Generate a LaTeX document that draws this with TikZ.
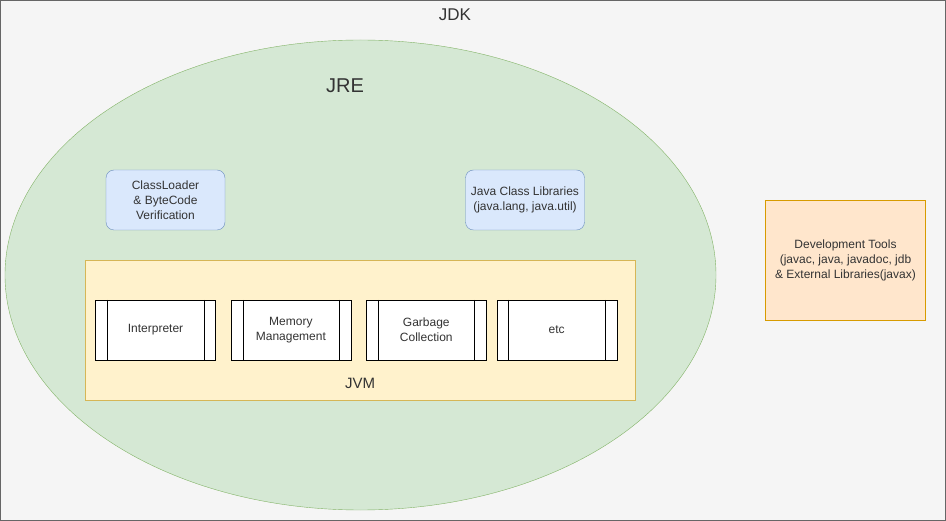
\documentclass[tikz,border=0pt]{standalone}
\usepackage{fontspec}
\setmainfont{Liberation Sans}
\usepackage{xcolor}
\usetikzlibrary{positioning,shapes.geometric,calc}

\definecolor{jdkfill}{HTML}{F5F5F5}
\definecolor{jdkline}{HTML}{666666}
\definecolor{jrefill}{HTML}{D5E8D4}
\definecolor{jreline}{HTML}{82B366}
\definecolor{bluefill}{HTML}{DAE8FC}
\definecolor{blueline}{HTML}{6C8EBF}
\definecolor{jvmfill}{HTML}{FFF2CC}
\definecolor{jvmline}{HTML}{D6B656}
\definecolor{toolfill}{HTML}{FFE6CC}
\definecolor{toolline}{HTML}{D79B00}
\definecolor{txt}{HTML}{333333}

\begin{document}
\begin{tikzpicture}[
  x=1pt, y=-1pt,
  every node/.style={font=\fontsize{12}{15}\selectfont, text=txt, align=center},
  part/.style={draw=blueline, fill=bluefill, rounded corners=8pt, minimum width=119pt, minimum height=60pt, inner sep=0pt},
  proc/.style={draw=black, fill=white, minimum width=120pt, minimum height=60pt, inner sep=0pt},
]
\useasboundingbox (0,0) rectangle (946,521);
\draw[jdkline, fill=jdkfill, line width=1.2pt] (0.6,0.6) rectangle (945.4,520.4);
\node[font=\fontsize{17}{20}\selectfont] (jdk) at (455,15) {JDK};

% JRE
\node[ellipse, draw=jreline, fill=jrefill, minimum width=711pt, minimum height=470pt, inner sep=0pt] (jre) at (360.5,275) {};
\node[font=\fontsize{20}{24}\selectfont] (jrelabel) at (345,86) {JRE};

\node[part] (loader) at (165.5,200) {ClassLoader\\\& ByteCode\\Verification};
\node[part] (libs) at (525,200) {Java Class Libraries\\(java.lang, java.util)};

% JVM
\draw[jvmline, fill=jvmfill] (85,260) rectangle (635,400);
\node[font=\fontsize{15}{18}\selectfont] (jvm) at (360,383) {JVM};

\node[proc] (interp) at (155.5,330) {Interpreter};
\node[proc, right=15pt of interp] (memory) {Memory\\Management};
\node[proc, right=15pt of memory] (garbage) {Garbage\\Collection};
\node[proc, right=10pt of garbage] (etc) {etc};
\foreach \n in {interp,memory,garbage,etc} {
  \draw ($(\n.north west)+(12,0)$) -- ($(\n.south west)+(12,0)$);
  \draw ($(\n.north east)+(-12,0)$) -- ($(\n.south east)+(-12,0)$);
}

% tools
\node[draw=toolline, fill=toolfill, minimum width=160pt, minimum height=120pt, inner sep=0pt] (tools) at (845.5,260) {Development Tools\\(javac, java, javadoc, jdb\\\& External Libraries(javax)};
\end{tikzpicture}
\end{document}
